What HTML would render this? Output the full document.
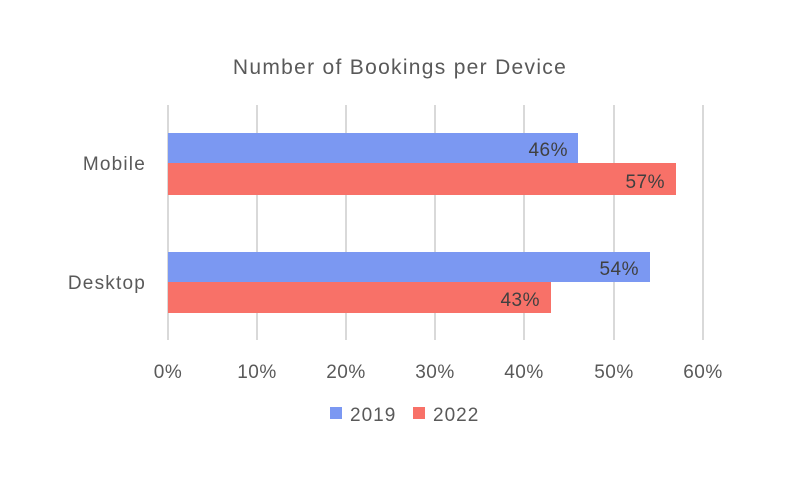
<!DOCTYPE html>
<html><head><style>body{margin:0;background:#fff}svg{display:block}text{font-family:"Liberation Sans",sans-serif}</style></head><body>
<svg width="800" height="480" xmlns="http://www.w3.org/2000/svg">
<rect width="800" height="480" fill="#fff"/>
<text x="400" y="74" font-size="21" letter-spacing="1.3" fill="#595959" text-anchor="middle">Number of Bookings per Device</text>
<g stroke="#d9d9d9" stroke-width="2">
<line x1="168" y1="105" x2="168" y2="340"/><line x1="257" y1="105" x2="257" y2="340"/><line x1="346" y1="105" x2="346" y2="340"/><line x1="435" y1="105" x2="435" y2="340"/><line x1="524" y1="105" x2="524" y2="340"/><line x1="614" y1="105" x2="614" y2="340"/><line x1="703" y1="105" x2="703" y2="340"/>
</g>
<rect x="168" y="133" width="410" height="30" fill="#7b98f2"/>
<rect x="168" y="163" width="508" height="32" fill="#f87168"/>
<rect x="168" y="252" width="482" height="30" fill="#7b98f2"/>
<rect x="168" y="282" width="383" height="31" fill="#f87168"/>
<g font-size="19" letter-spacing="0.5" fill="#404040" text-anchor="end">
<text x="568" y="156">46%</text><text x="665" y="188">57%</text>
<text x="639" y="275">54%</text><text x="540" y="306">43%</text>
</g>
<g font-size="19" letter-spacing="1.2" fill="#595959" text-anchor="end">
<text x="146" y="170">Mobile</text><text x="146" y="289">Desktop</text>
</g>
<g font-size="19" letter-spacing="0.5" fill="#595959" text-anchor="middle">
<text x="168" y="378">0%</text><text x="257" y="378">10%</text><text x="346" y="378">20%</text><text x="435" y="378">30%</text><text x="524" y="378">40%</text><text x="614" y="378">50%</text><text x="703" y="378">60%</text>
</g>
<rect x="330" y="407" width="12" height="12" fill="#7b98f2"/>
<text x="350" y="421" font-size="19" letter-spacing="1" fill="#595959">2019</text>
<rect x="413" y="407" width="12" height="12" fill="#f87168"/>
<text x="433" y="421" font-size="19" letter-spacing="1" fill="#595959">2022</text>
</svg>
</body></html>
